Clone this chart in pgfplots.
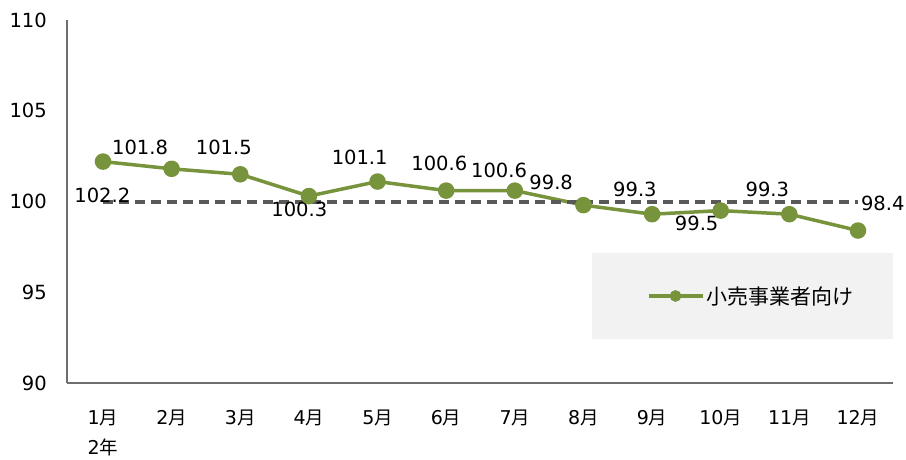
\documentclass[border=0pt]{standalone}
\usepackage{fontspec}
\setmainfont{DejaVu Sans}
\newfontfamily\jp{Noto Sans CJK JP}
\usepackage{pgfplots}
\pgfplotsset{compat=1.18}
\definecolor{lineg}{HTML}{77933C}
\definecolor{dgray}{HTML}{595959}
\definecolor{axgray}{HTML}{6E6E6E}
\definecolor{boxg}{HTML}{F2F2F2}
\newcommand{\m}[1]{#1{\jp\fontsize{18.5}{30}\selectfont 月}}
\begin{document}
\begin{tikzpicture}[x=1pt,y=1pt]
\useasboundingbox (-67,-76) rectangle (839,383);
\begin{axis}[at={(0,0)},anchor=south west,
  scale only axis, width=826pt, height=363pt,
  xmin=0.4755, xmax=12.51, ymin=90, ymax=110,
  ytick={90,95,100,105,110}, xtick={1,...,12},
  xticklabels={{\m{1}\\2{\jp\fontsize{18.5}{30}\selectfont 年}},\m{2},\m{3},\m{4},\m{5},\m{6},\m{7},\m{8},\m{9},\m{10},\m{11},\m{12}},
  axis x line=bottom, axis y line=left,
  axis line style={axgray, line width=2pt, -},
  major tick length=0pt,
  /pgf/number format/assume math mode=true,
  tick label style={text=black},
  yticklabel style={font=\fontsize{19.5}{24}\selectfont, anchor=east, inner sep=0pt, xshift=-20pt},
  xticklabel style={font=\fontsize{19}{30}\selectfont, anchor=north, inner sep=0pt, yshift=-27pt, align=center},
  legend style={at={(rel axis cs:0.8281,0.2397)}, anchor=center, draw=none, fill=none,
    font=\jp\fontsize{21}{25}\selectfont, inner sep=0pt},
  legend image code/.code={\draw[#1, mark repeat=2, mark phase=2, mark size=4pt] plot coordinates {(0pt,0pt) (27pt,0pt) (54pt,0pt)};},
  clip=false,
]
\fill[boxg] (rel axis cs:0.6356,0.1212) rectangle (rel axis cs:1.0,0.3581);
\addplot[lineg, line width=3.5pt, mark=*, mark size=6.5pt, mark options={fill=lineg, draw=lineg}]
  coordinates {(1,102.2) (2,101.8) (3,101.5) (4,100.3) (5,101.1) (6,100.6) (7,100.6) (8,99.8) (9,99.3) (10,99.5) (11,99.3) (12,98.4)};
\addlegendentry{小売事業者向け}
\addplot[dgray, line width=4pt, dash pattern=on 10pt off 6pt, forget plot]
  coordinates {(1,100) (12,100)};
\begin{scope}[every node/.style={font=\fontsize{19.5}{24}\selectfont, inner sep=0pt}]
\node at (axis cs:0.99,100.36) {102.2};
\node at (axis cs:1.54,103.0) {101.8};
\node at (axis cs:2.76,103.0) {101.5};
\node at (axis cs:3.86,99.59) {100.3};
\node at (axis cs:4.74,102.42) {101.1};
\node at (axis cs:5.90,102.12) {100.6};
\node at (axis cs:6.77,101.74) {100.6};
\node at (axis cs:7.53,101.05) {99.8};
\node at (axis cs:8.75,100.69) {99.3};
\node at (axis cs:9.65,98.82) {99.5};
\node at (axis cs:10.68,100.69) {99.3};
\node at (axis cs:12.36,99.9) {98.4};
\end{scope}
\end{axis}
\end{tikzpicture}
\end{document}
